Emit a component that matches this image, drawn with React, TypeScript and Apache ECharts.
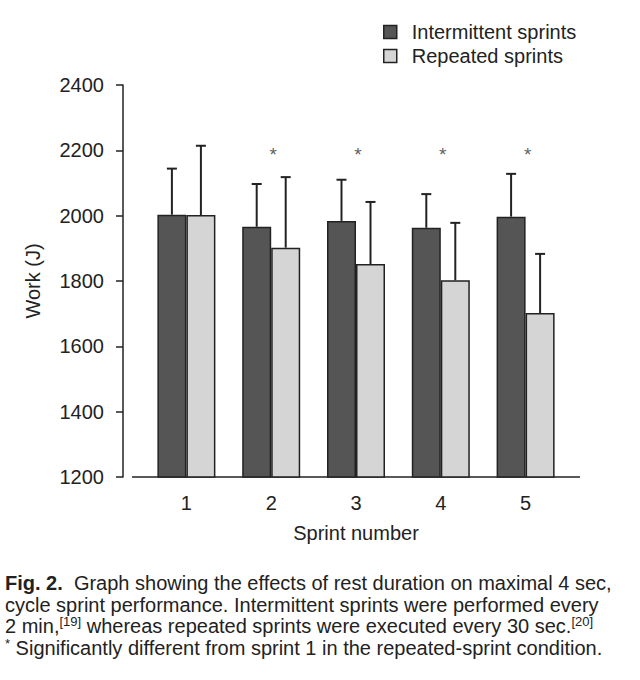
import React, { useEffect, useRef } from "react";
import * as echarts from "echarts";

const categories = ["1", "2", "3", "4", "5"];
const seriesNames = ["Intermittent sprints", "Repeated sprints"];
const intermittent = [2003, 1966, 1984, 1963, 1997];
const repeated = [2002, 1902, 1852, 1802, 1702];
const intermittentErrTop = [2144, 2097, 2110, 2066, 2128];
const repeatedErrTop = [2214, 2118, 2042, 1978, 1883];
const starCategories = [1, 2, 3, 4];
const starValue = 2186;
const yTicks = { min: 1200, max: 2400, interval: 200 };
const captionLines = [
  "{b|Fig. 2.}  Graph showing the effects of rest duration on maximal 4 sec,",
  "cycle sprint performance. Intermittent sprints were performed every",
  "2 min,{s|[19]} whereas repeated sprints were executed every 30 sec.{s|[20]}",
  "{s|*} Significantly different from sprint 1 in the repeated-sprint condition.",
];

const FONT = "Liberation Sans, Arial, Helvetica, sans-serif";
const INK = "#222222";
const DARK = "#555555";
const LIGHT = "#d5d5d5";
const BAR_W = 29;
const FS = 20;

export default function App() {
  const ref = useRef<HTMLDivElement>(null);
  useEffect(() => {
    document.body.style.margin = "0";
    const chart = echarts.init(ref.current!, null, { renderer: "svg" });

    const errData = (vals: number[], tops: number[]) =>
      vals.map((v, i) => [i, tops[i], v]);

    const makeErr = (name: string, vals: number[], tops: number[], side: number) => ({
      type: "custom",
      name: name + " error",
      silent: true,
      z: 1,
      data: errData(vals, tops),
      renderItem: (params: any, api: any) => {
        const idx = api.value(0);
        const top = api.coord([idx, api.value(1)]);
        const base = api.coord([idx, api.value(2)]);
        const x = top[0] + (side * BAR_W) / 2;
        return {
          type: "group",
          children: [
            {
              type: "line",
              shape: { x1: x, y1: base[1], x2: x, y2: top[1] },
              style: { stroke: INK, lineWidth: 2 },
            },
            {
              type: "line",
              shape: { x1: x - 5, y1: top[1], x2: x + 5, y2: top[1] },
              style: { stroke: INK, lineWidth: 2 },
            },
          ],
        };
      },
    });

    const option: any = {
      animation: false,
      backgroundColor: "#ffffff",
      textStyle: { fontFamily: FONT, color: INK },
      grid: { left: 144, right: 72, top: 85, bottom: 203 },
      legend: {
        orient: "vertical",
        left: 378,
        top: 17,
        itemWidth: 13,
        itemHeight: 13,
        itemGap: 4,
        icon: "rect",
        data: seriesNames,
        textStyle: { fontSize: FS, color: INK, fontFamily: FONT, padding: [0, 0, 0, 10] },
        itemStyle: { borderColor: INK, borderWidth: 1.5 },
      },
      xAxis: {
        type: "category",
        data: categories,
        axisLine: { show: false },
        axisTick: { show: false },
        axisLabel: { fontSize: FS, color: INK, margin: 16, fontFamily: FONT },
        name: "Sprint number",
        nameLocation: "middle",
        nameGap: 46,
        nameTextStyle: { fontSize: FS, color: INK, fontFamily: FONT },
      },
      yAxis: {
        type: "value",
        min: yTicks.min,
        max: yTicks.max,
        interval: yTicks.interval,
        offset: 21,
        axisLine: { show: true, lineStyle: { color: INK, width: 1.5 } },
        axisTick: { show: true, length: 7, lineStyle: { color: INK, width: 1.5 } },
        splitLine: { show: false },
        axisLabel: {
          fontSize: FS,
          color: INK,
          margin: 19,
          fontFamily: FONT,
          formatter: (v: number) => String(v),
        },
        name: "Work (J)",
        nameLocation: "middle",
        nameRotate: 90,
        nameGap: 80,
        nameTextStyle: { fontSize: FS, color: INK, fontFamily: FONT },
      },
      series: [
        {
          type: "bar",
          name: seriesNames[0],
          data: intermittent,
          barWidth: BAR_W,
          barGap: "0%",
          itemStyle: { color: DARK, borderColor: INK, borderWidth: 1.5 },
          z: 2,
        },
        {
          type: "bar",
          name: seriesNames[1],
          data: repeated,
          barWidth: BAR_W,
          barGap: "0%",
          itemStyle: { color: LIGHT, borderColor: INK, borderWidth: 1.5 },
          z: 2,
        },
        makeErr(seriesNames[0], intermittent, intermittentErrTop, -1),
        makeErr(seriesNames[1], repeated, repeatedErrTop, 1),
        {
          type: "scatter",
          name: "significance",
          symbolSize: 0,
          silent: true,
          data: starCategories.map((c) => [c, starValue]),
          label: {
            show: true,
            position: "inside",
            formatter: "*",
            fontSize: 19,
            color: "#333",
            offset: [2, 0],
            fontFamily: FONT,
          },
        },
      ],
      graphic: [
        {
          type: "line",
          shape: { x1: 132, y1: 477, x2: 580, y2: 477 },
          style: { stroke: INK, lineWidth: 1.5 },
        },
        ...captionLines.map((t, i) => ({
          type: "text",
          left: 5,
          top: 572 + i * 21.7,
          style: {
            text: t,
            fontSize: FS,
            fontFamily: FONT,
            fill: INK,
            lineHeight: 22,
            rich: {
              b: { fontWeight: "bold", fontSize: FS, fontFamily: FONT, fill: INK },
              s: { fontSize: 13, fontFamily: FONT, fill: INK, verticalAlign: "top", lineHeight: 22 },
            },
          },
        })),
      ],
    };
    chart.setOption(option);
    return () => chart.dispose();
  }, []);
  return <div ref={ref} style={{ width: 640, height: 680 }} />;
}
